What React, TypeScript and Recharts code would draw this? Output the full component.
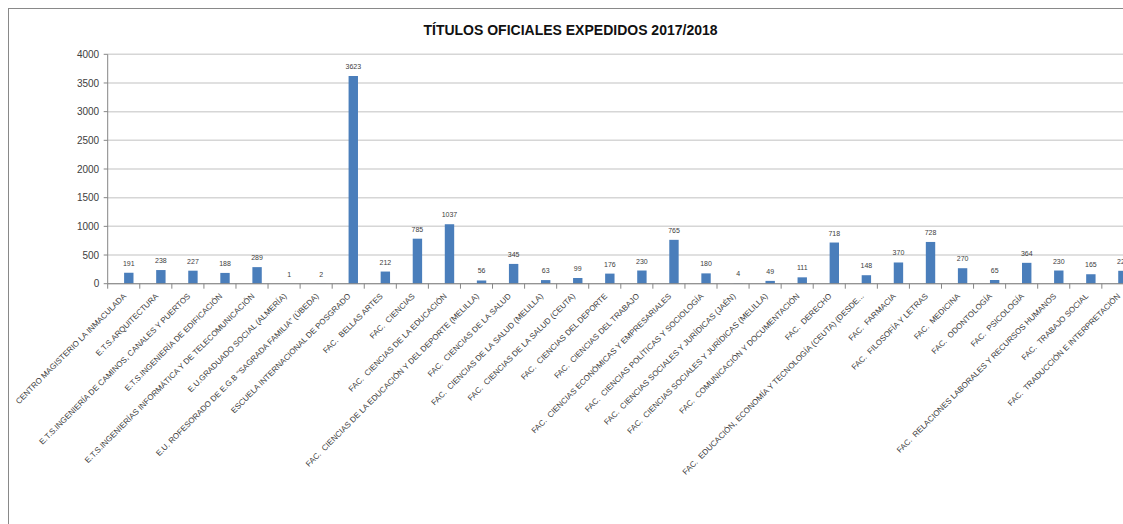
import { Bar, BarChart, CartesianGrid, LabelList, XAxis, YAxis } from "recharts";

const CENTROS = [
  "CENTRO MAGISTERIO LA INMACULADA",
  "E.T.S.ARQUITECTURA",
  "E.T.S.INGENIERÍA DE CAMINOS, CANALES Y PUERTOS",
  "E.T.S.INGENIERÍA DE EDIFICACIÓN",
  "E.T.S.INGENIERÍAS INFORMÁTICA Y DE TELECOMUNICACIÓN",
  "E.U.GRADUADO SOCIAL (ALMERÍA)",
  'E.U. ROFESORADO DE E.G.B "SAGRADA FAMILIA" (ÚBEDA)',
  "ESCUELA INTERNACIONAL DE POSGRADO",
  "FAC.  BELLAS ARTES",
  "FAC.  CIENCIAS",
  "FAC.  CIENCIAS DE LA EDUCACIÓN",
  "FAC.  CIENCIAS DE LA EDUCACIÓN Y DEL DEPORTE (MELILLA)",
  "FAC.  CIENCIAS DE LA SALUD",
  "FAC.  CIENCIAS DE LA SALUD (MELILLA)",
  "FAC.  CIENCIAS DE LA SALUD (CEUTA)",
  "FAC.  CIENCIAS DEL DEPORTE",
  "FAC.  CIENCIAS DEL TRABAJO",
  "FAC.  CIENCIAS ECONÓMICAS Y EMPRESARIALES",
  "FAC.  CIENCIAS POLÍTICAS Y SOCIOLOGÍA",
  "FAC.  CIENCIAS SOCIALES Y JURÍDICAS (JAÉN)",
  "FAC.  CIENCIAS SOCIALES Y JURÍDICAS (MELILLA)",
  "FAC.  COMUNICACIÓN Y DOCUMENTACIÓN",
  "FAC.  DERECHO",
  "FAC.  EDUCACIÓN, ECONOMÍA Y TECNOLOGÍA (CEUTA) (DESDE...",
  "FAC.  FARMACIA",
  "FAC.  FILOSOFÍA Y LETRAS",
  "FAC.  MEDICINA",
  "FAC.  ODONTOLOGÍA",
  "FAC.  PSICOLOGÍA",
  "FAC.  RELACIONES LABORALES Y RECURSOS HUMANOS",
  "FAC.  TRABAJO SOCIAL",
  "FAC.  TRADUCCIÓN E INTERPRETACIÓN",
];

const TITULOS = [
  191, 238, 227, 188, 289, 1, 2, 3623, 212, 785, 1037, 56, 345, 63, 99, 176, 230, 765, 180, 4, 49, 111,
  718, 148, 370, 728, 270, 65, 364, 230, 165, 225,
];

const Y_TICKS = [0, 500, 1000, 1500, 2000, 2500, 3000, 3500, 4000];

const data = CENTROS.map((centro, i) => ({ centro, titulos: TITULOS[i] }));

const FONT = '"Liberation Sans", Arial, sans-serif';
const GRIS = "#868686";
const TEXTO = "#404040";

// plot area geometry (chart coords)
const PLOT_LEFT = 98.7;
const PLOT_WIDTH = 1026.2;
const BANDA = PLOT_WIDTH / CENTROS.length;

function TickCentro(props: any) {
  const { x, y, payload } = props;
  const borde = x - BANDA / 2;
  const tx = x + 3;
  const ty = y + 13;
  return (
    <g>
      <line x1={borde} x2={borde} y1={y} y2={y + 5} stroke={GRIS} />
      <text
        x={tx}
        y={ty}
        transform={`rotate(-45 ${tx} ${ty})`}
        textAnchor="end"
        fontSize={8}
        fill={TEXTO}
        fontFamily={FONT}
        style={{ whiteSpace: "pre" }}
      >
        {payload.value}
      </text>
    </g>
  );
}

export default function App() {
  return (
    <div
      style={{
        position: "fixed",
        left: 0,
        top: 0,
        width: 1123,
        height: 524,
        overflow: "hidden",
        background: "#fff",
      }}
    >
      <div
        style={{
          position: "absolute",
          left: 8,
          top: 8,
          width: 1140,
          height: 560,
          border: "1px solid #898989",
        }}
      >
        <div
          style={{
            position: "absolute",
            left: 561.5 - 300,
            top: 14.2,
            width: 600,
            textAlign: "center",
            fontFamily: FONT,
            fontWeight: "bold",
            fontSize: 14,
            lineHeight: "14px",
            color: "#111",
          }}
        >
          TÍTULOS OFICIALES EXPEDIDOS 2017/2018
        </div>
        <BarChart
          width={1130}
          height={540}
          data={data}
          margin={{ top: 45.3, right: 1130 - PLOT_LEFT - PLOT_WIDTH, bottom: 0, left: 0 }}
          barGap={1}
        >
          <CartesianGrid vertical={false} stroke="#d6d6d6" strokeWidth={1.5} />
          <XAxis
            dataKey="centro"
            interval={0}
            height={265.3}
            tickSize={0}
            tickMargin={0}
            tickLine={false}
            axisLine={{ stroke: GRIS }}
            tick={<TickCentro />}
          />
          <YAxis
            width={PLOT_LEFT}
            domain={[0, 4000]}
            ticks={Y_TICKS}
            tickSize={4}
            tickMargin={4.5}
            tickLine={{ stroke: GRIS }}
            axisLine={{ stroke: GRIS }}
            tick={{ fontSize: 10, fill: TEXTO, fontFamily: FONT }}
          />
          <Bar dataKey="serieVacia" barSize={9.4} isAnimationActive={false} />
          <Bar dataKey="titulos" barSize={9.4} fill="#4A7EBB" isAnimationActive={false}>
            <LabelList
              dataKey="titulos"
              position="top"
              offset={7}
              fontSize={7}
              fill={TEXTO}
              fontFamily={'"Liberation Sans Narrow", "Liberation Sans", sans-serif'}
            />
          </Bar>
        </BarChart>
      </div>
    </div>
  );
}
